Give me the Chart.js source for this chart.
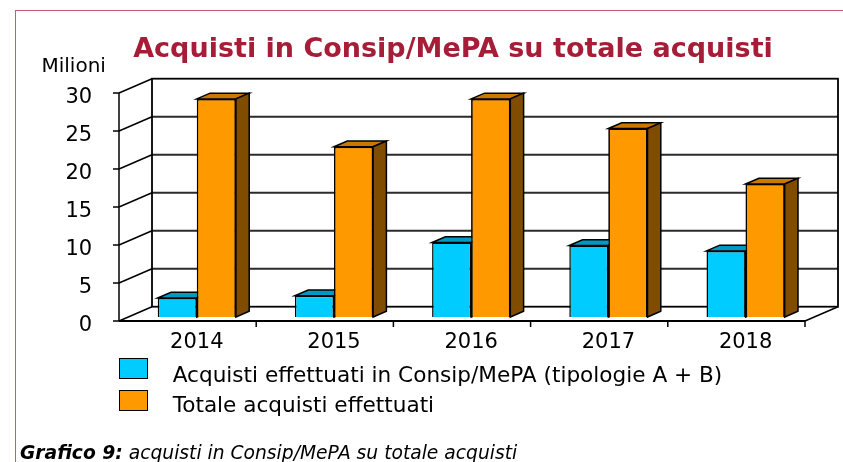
<!DOCTYPE html>
<html>
<head>
<meta charset="utf-8">
<script src="https://cdn.jsdelivr.net/npm/chart.js@4/dist/chart.umd.min.js"></script>
<style>
html,body{margin:0;padding:0;background:#fff;}
#wrap{position:relative;width:843px;height:462px;overflow:hidden;font-family:"DejaVu Sans",Verdana,sans-serif;color:#000;}
canvas{position:absolute;left:0;top:0;}
.t{position:absolute;white-space:nowrap;line-height:1;}
#frameTop{position:absolute;left:15px;top:9.5px;width:828px;height:0;border-top:1.5px solid #cc5a6e;}
#frameLeft{position:absolute;left:14.5px;top:9.5px;width:0;height:453px;border-left:1.5px solid #cc5a6e;}
#title{left:453px;top:34.2px;transform:translateX(-50%);font-size:27px;font-weight:bold;color:#a51d36;}
#unit{left:41.5px;top:54.8px;font-size:20px;}
.sw{position:absolute;left:119px;width:26.5px;height:19px;border:1.5px solid #000;}
.lt{position:absolute;left:172.7px;font-size:21.6px;line-height:1;white-space:nowrap;}
#caption{left:20px;top:444.2px;font-size:18.7px;font-style:italic;}
</style>
</head>
<body>
<div id="wrap">
  <div id="frameTop"></div>
  <div id="frameLeft"></div>
  <canvas id="c" width="843" height="462"></canvas>
  <div class="t" id="title">Acquisti in Consip/MePA su totale acquisti</div>
  <div class="t" id="unit">Milioni</div>
  <div id="legend"></div>
  <div class="t" id="caption"><b>Grafico 9:</b> acquisti in Consip/MePA su totale acquisti</div>
</div>
<script>
// ---- data ----
const categories = ['2014', '2015', '2016', '2017', '2018'];
const consipValues = [2.5, 2.8, 9.8, 9.4, 8.7];
const totalValues = [28.7, 22.4, 28.7, 24.8, 17.5];
const seriesLabels = ['Acquisti effettuati in Consip/MePA (tipologie A + B)', 'Totale acquisti effettuati'];
const yTicks = [0, 5, 10, 15, 20, 25, 30];

// ---- styles ----
const FONT = '"DejaVu Sans", Verdana, sans-serif';
const seriesStyle = [
  {front: '#00ccff', top: '#0099c4', side: '#006f8f'},
  {front: '#ff9900', top: '#c97800', side: '#7f4c00'}
];
const FRONT = {dx: -9.2, dy: 4};
const BACK = {dx: 23.8, dy: -10.3};
const BAR_D = {dx: 13.3, dy: -5.7};

function line(ctx, x1, y1, x2, y2) {
  ctx.beginPath(); ctx.moveTo(x1, y1); ctx.lineTo(x2, y2); ctx.stroke();
}
function poly(ctx, pts, fill) {
  ctx.beginPath();
  ctx.moveTo(pts[0][0], pts[0][1]);
  for (let i = 1; i < pts.length; i++) ctx.lineTo(pts[i][0], pts[i][1]);
  ctx.closePath();
  ctx.fillStyle = fill; ctx.fill(); ctx.stroke();
}

const box3d = {
  id: 'box3d',
  beforeDatasetsDraw(chart) {
    const {ctx, chartArea: a, scales: {x, y}} = chart;
    const L = a.left, R = a.right;
    const yMin = yTicks[0], yMax = yTicks[yTicks.length - 1];
    ctx.save();
    ctx.lineCap = 'butt';
    // back wall gridlines
    ctx.strokeStyle = '#2b2b2b'; ctx.lineWidth = 2;
    yTicks.forEach(v => {
      if (v === yMin || v === yMax) return;
      const yy = y.getPixelForValue(v) + BACK.dy;
      line(ctx, L + BACK.dx, yy, R + BACK.dx, yy);
    });
    // back wall border
    ctx.strokeStyle = '#000'; ctx.lineWidth = 1.8;
    const bt = y.getPixelForValue(yMax) + BACK.dy, bb = y.getPixelForValue(yMin) + BACK.dy;
    ctx.strokeRect(L + BACK.dx, bt, R - L, bb - bt);
    // left wall: front axis + diagonals + tick marks
    const ft = y.getPixelForValue(yMax) + FRONT.dy, fb = y.getPixelForValue(yMin) + FRONT.dy;
    ctx.lineWidth = 1.5;
    line(ctx, L + FRONT.dx, ft, L + FRONT.dx, fb);
    yTicks.forEach(v => {
      const yf = y.getPixelForValue(v) + FRONT.dy, yb = y.getPixelForValue(v) + BACK.dy;
      line(ctx, L + FRONT.dx, yf, L + BACK.dx, yb);
      line(ctx, L + FRONT.dx - 6, yf, L + FRONT.dx, yf);
    });
    // floor front edge and right edge
    ctx.lineWidth = 2;
    line(ctx, L + FRONT.dx, fb, R + FRONT.dx, fb);
    ctx.lineWidth = 1.5;
    line(ctx, R + FRONT.dx, fb, R + BACK.dx, bb);
    // category boundary ticks
    const catW = (R - L) / categories.length;
    for (let k = 1; k <= categories.length; k++) {
      const xx = x.getPixelForValue(k - 1) + catW / 2 + FRONT.dx;
      line(ctx, xx, fb, xx, fb + 6);
    }
    ctx.restore();
  },
  afterDatasetsDraw(chart) {
    const {ctx} = chart;
    const metas = [chart.getDatasetMeta(0), chart.getDatasetMeta(1)];
    ctx.save();
    ctx.strokeStyle = '#000'; ctx.lineWidth = 1.5; ctx.lineJoin = 'miter';
    for (let i = 0; i < categories.length; i++) {
      metas.forEach((meta, d) => {
        const el = meta.data[i];
        if (d > 0) el.draw(ctx);
        const p = el.getProps(['x', 'y', 'base', 'width'], true);
        const xl = p.x - p.width / 2, xr = p.x + p.width / 2;
        const yt = Math.min(p.y, p.base), yb = Math.max(p.y, p.base);
        const st = seriesStyle[d];
        poly(ctx, [[xl, yt], [xl + BAR_D.dx, yt + BAR_D.dy], [xr + BAR_D.dx, yt + BAR_D.dy], [xr, yt]], st.top);
        poly(ctx, [[xr, yt], [xr + BAR_D.dx, yt + BAR_D.dy], [xr + BAR_D.dx, yb + BAR_D.dy], [xr, yb]], st.side);
      });
    }
    ctx.restore();
  }
};

new Chart(document.getElementById('c'), {
  type: 'bar',
  data: {
    labels: categories,
    datasets: [
      {label: seriesLabels[0], data: consipValues, backgroundColor: seriesStyle[0].front, borderColor: '#000', borderWidth: 1.5},
      {label: seriesLabels[1], data: totalValues, backgroundColor: seriesStyle[1].front, borderColor: '#000', borderWidth: 1.5}
    ]
  },
  options: {
    responsive: false,
    devicePixelRatio: 1,
    animation: false,
    layout: {padding: {top: 89, right: 28.8, bottom: 0, left: 0}},
    datasets: {bar: {categoryPercentage: 0.57, barPercentage: 1.0}},
    plugins: {legend: {display: false}, tooltip: {enabled: false}, title: {display: false}},
    scales: {
      x: {
        grid: {display: false, drawTicks: false},
        border: {display: false},
        ticks: {font: {family: FONT, size: 21}, color: '#000', padding: 13, maxRotation: 0},
        afterFit: s => { s.height = 145; }
      },
      y: {
        min: 0, max: 30,
        afterBuildTicks: s => { s.ticks = yTicks.map(v => ({value: v})); },
        grid: {display: false, drawTicks: false},
        border: {display: false},
        ticks: {font: {family: FONT, size: 21}, color: '#000', padding: 36, labelOffset: 9},
        afterFit: s => { s.width = 128.2; }
      }
    }
  },
  plugins: [box3d]
});

// legend from data
const lg = document.getElementById('legend');
const swTops = [357.5, 390];
const txtTops = [382.5 - 0.846 * 21.6, 412.5 - 0.846 * 21.6];
seriesLabels.forEach((lab, i) => {
  const sw = document.createElement('div');
  sw.className = 'sw'; sw.style.top = swTops[i] + 'px'; sw.style.background = seriesStyle[i].front;
  lg.appendChild(sw);
  const tx = document.createElement('div');
  tx.className = 'lt'; tx.style.top = txtTops[i] + 'px'; tx.textContent = lab;
  lg.appendChild(tx);
});
</script>
</body>
</html>
